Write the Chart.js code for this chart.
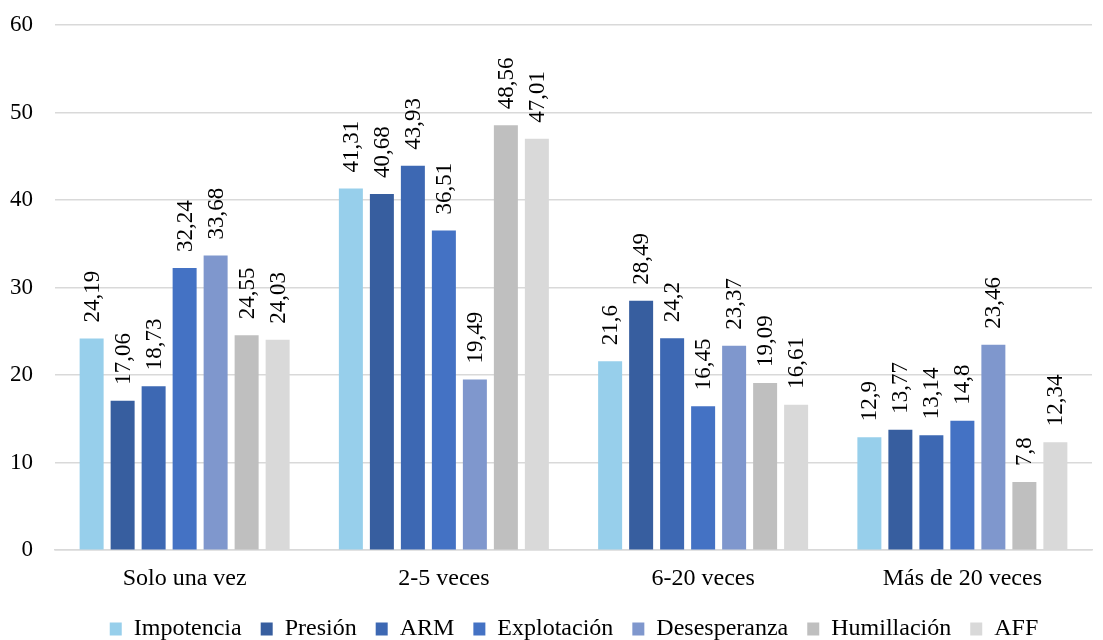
<!DOCTYPE html>
<html>
<head>
<meta charset="utf-8">
<script src="https://cdn.jsdelivr.net/npm/chart.js@4.4.1/dist/chart.umd.min.js"></script>
<style>
  html, body { margin: 0; padding: 0; background: #fff; }
  #wrap { width: 1103px; height: 640px; }
</style>
</head>
<body>
<div id="wrap"><canvas id="chart"></canvas></div>
<script>
var categories = ['Solo una vez', '2-5 veces', '6-20 veces', 'Más de 20 veces'];
var seriesNames = ['Impotencia', 'Presión', 'ARM', 'Explotación', 'Desesperanza', 'Humillación', 'AFF'];
var impotencia   = [24.19, 41.31, 21.6, 12.9];
var presion      = [17.06, 40.68, 28.49, 13.77];
var arm          = [18.73, 43.93, 24.2, 13.14];
var explotacion  = [32.24, 36.51, 16.45, 14.8];
var desesperanza = [33.68, 19.49, 23.37, 23.46];
var humillacion  = [24.55, 48.56, 19.09, 7.8];
var aff          = [24.03, 47.01, 16.61, 12.34];
var yTicks = [0, 10, 20, 30, 40, 50, 60];

var colors = ['#97CFEB', '#375E9F', '#3D68B3', '#4472C4', '#7F97CD', '#BFBFBF', '#D9D9D9'];
var allValues = [impotencia, presion, arm, explotacion, desesperanza, humillacion, aff];

var FONT = "'Liberation Serif', 'Times New Roman', serif";

// rotated value labels above each bar
var valueLabels = {
    id: 'valueLabels',
    afterLayout: function(chart) {
        // legend sits a bit right of centre in the original
        if (chart.legend) {
            chart.legend.left += 34;
            chart.legend.right += 34;
        }
    },
    afterDatasetsDraw: function(chart) {
        var ctx = chart.ctx;
        ctx.save();
        ctx.font = '23px ' + FONT;
        ctx.fillStyle = '#000';
        ctx.textAlign = 'left';
        ctx.textBaseline = 'middle';
        chart.data.datasets.forEach(function(ds, i) {
            var meta = chart.getDatasetMeta(i);
            meta.data.forEach(function(bar, j) {
                var txt = String(ds.data[j]).replace('.', ',');
                ctx.save();
                ctx.translate(bar.x, bar.y - 16);
                ctx.rotate(-Math.PI / 2);
                ctx.fillText(txt, 0, 1);
                ctx.restore();
            });
        });
        ctx.restore();
    }
};

var datasets = seriesNames.map(function(name, i) {
    return {
        label: name,
        data: allValues[i],
        backgroundColor: colors[i],
        borderWidth: 0,
        categoryPercentage: 0.837,
        barPercentage: 0.774
    };
});

new Chart(document.getElementById('chart'), {
    type: 'bar',
    data: { labels: categories, datasets: datasets },
    plugins: [valueLabels],
    options: {
        responsive: true,
        maintainAspectRatio: false,
        animation: false,
        layout: { padding: { left: -12, right: 11, top: 25, bottom: -11 } },
        plugins: {
            tooltip: { enabled: false },
            legend: {
                position: 'bottom',
                labels: {
                    boxWidth: 12,
                    boxHeight: 13,
                    padding: 19,
                    color: '#000',
                    font: { family: FONT, size: 24 }
                }
            }
        },
        scales: {
            x: {
                grid: { display: false },
                border: { color: '#D9D9D9', width: 1.5 },
                ticks: { color: '#000', padding: 6, font: { family: FONT, size: 24 } },
                afterFit: function(axis) { axis.height -= 1; }
            },
            y: {
                min: 0,
                max: 60,
                afterBuildTicks: function(axis) {
                    axis.ticks = yTicks.map(function(v) { return { value: v }; });
                },
                afterFit: function(axis) { axis.paddingTop = 0; axis.paddingBottom = 0; },
                grid: { color: '#D9D9D9', lineWidth: 1.5, drawTicks: false },
                border: { display: false },
                ticks: { color: '#000', padding: 22, font: { family: FONT, size: 23 } }
            }
        }
    }
});
</script>
</body>
</html>
